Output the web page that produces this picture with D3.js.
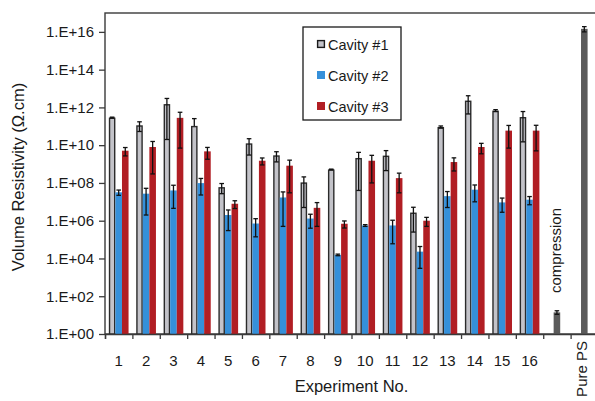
<!DOCTYPE html>
<html>
<head>
<meta charset="utf-8">
<script src="https://cdn.jsdelivr.net/npm/d3@7"></script>
<style>
  body { margin: 0; background: #fff; }
  text { font-family: "Liberation Sans", Arial, sans-serif; fill: #1a1a1a; }
</style>
</head>
<body>
<div id="chart"></div>
<script>
// experiments 1..16, then the two reference samples
const experiments = d3.range(1, 17).map(String);
const groups = experiments.concat(["compression", "Pure PS"]);
const cavities = ["Cavity #1", "Cavity #2", "Cavity #3"];

// volume resistivity (ohm.cm) and +/- error
const cavity1 = [2.9e11, 1.13e11, 1.5e12, 1.05e11, 6e7, 1.25e10, 2.9e9, 1.07e8, 5.2e8, 2.1e9, 2.8e9, 2.7e6, 9.2e10, 2.3e12, 6.8e11, 3.1e11];
const cavity1Err = [1.5e10, 6e10, 1.48e12, 1.5e11, 3.3e7, 9.5e9, 1.6e9, 1.02e8, 2e7, 2.06e9, 2.35e9, 2.45e6, 1.2e10, 1.85e12, 8e10, 2.95e11];
const cavity2 = [3.2e7, 2.7e7, 4e7, 9.8e7, 2e6, 7.1e5, 1.7e7, 1.3e6, 1.55e4, 5.6e5, 5.6e5, 2.3e4, 2e7, 4.4e7, 9.3e6, 1.3e7];
const cavity2Err = [1e7, 2.5e7, 3.55e7, 7.5e7, 1.7e6, 5.7e5, 1.65e7, 9e5, 1.5e3, 6e4, 5e5, 2e4, 1.5e7, 3.4e7, 6.5e6, 6e6];
const cavity3 = [5.1e9, 8e9, 2.8e11, 4.7e9, 7.9e6, 1.5e9, 8.2e8, 4.8e6, 6.9e5, 1.5e9, 1.8e8, 1e6, 1.28e9, 8e9, 5.9e10, 5.9e10];
const cavity3Err = [2.4e9, 7.7e9, 2.73e11, 2.9e9, 3.5e6, 6e8, 7.9e8, 4.3e6, 2.8e5, 1.4e9, 1.5e8, 5e5, 8.5e8, 4.5e9, 5.2e10, 5.4e10];
const refValues = [14, 1.45e16];
const refErr = [3, 4.5e15];

const yTicks = [1e0, 1e2, 1e4, 1e6, 1e8, 1e10, 1e12, 1e14, 1e16];

const colors = ["#c3c3c9", "#3590da", "#b11e24"];
const refColor = "#5b5b5b";

const width = 595, height = 401;
const margin = { top: 13, left: 105, bottom: 334, right: 598 };

const svg = d3.select("#chart").append("svg")
    .attr("width", width)
    .attr("height", height);

const x0 = d3.scaleBand()
    .domain(groups)
    .range([margin.left, margin.right])
    .paddingInner(0.28)
    .paddingOuter(0.14);

const x1 = d3.scaleBand()
    .domain(cavities)
    .range([0, x0.bandwidth()]);

const xBound = d3.scaleLinear()
    .domain([0, groups.length])
    .range([margin.left, margin.right]);

const y = d3.scaleLog()
    .domain([1, 1e17])
    .range([margin.bottom, margin.top]);

// plot frame
svg.append("rect")
    .attr("x", margin.left)
    .attr("y", margin.top)
    .attr("width", margin.right - margin.left)
    .attr("height", margin.bottom - margin.top)
    .attr("fill", "none")
    .attr("stroke", "#3a3a3a")
    .attr("stroke-width", 1.4);

// bars
const series = [cavity1, cavity2, cavity3];
const errs = [cavity1Err, cavity2Err, cavity3Err];

const barData = [];
series.forEach((vals, s) => {
    vals.forEach((v, i) => {
        barData.push({ g: experiments[i], c: cavities[s], s: s, v: v, e: errs[s][i],
                       x: x0(experiments[i]) + x1(cavities[s]), w: x1.bandwidth() });
    });
});
refValues.forEach((v, i) => {
    const g = groups[16 + i];
    barData.push({ g: g, s: 3, v: v, e: refErr[i],
                   x: x0(g) + x0.bandwidth() / 2 - x1.bandwidth() / 2, w: x1.bandwidth() });
});

svg.append("g")
    .selectAll("rect")
    .data(barData)
    .enter().append("rect")
    .attr("x", d => d.s === 0 ? d.x + 0.7 : d.x)
    .attr("y", d => y(d.v) + (d.s === 0 ? 0.7 : 0))
    .attr("width", d => d.s === 0 ? d.w - 1.4 : d.w)
    .attr("height", d => y(1) - y(d.v) - (d.s === 0 ? 0.7 : 0))
    .attr("fill", d => d.s === 3 ? refColor : colors[d.s])
    .attr("stroke", d => d.s === 0 ? "#2b2b2b" : "none")
    .attr("stroke-width", 1.4);

// error bars
const eb = svg.append("g")
    .attr("stroke", "#111")
    .attr("stroke-width", 1.3)
    .selectAll("g")
    .data(barData)
    .enter().append("g");

const cx = d => d.x + d.w / 2;
const hi = d => y(d.v + d.e);
const lo = d => d.v - d.e > 0 ? y(d.v - d.e) : y(d.v);

eb.append("line")
    .attr("x1", cx).attr("x2", cx)
    .attr("y1", hi).attr("y2", lo);
eb.append("line")
    .attr("x1", d => cx(d) - 2.3).attr("x2", d => cx(d) + 2.3)
    .attr("y1", hi).attr("y2", hi);
eb.filter(d => d.v - d.e > 0).append("line")
    .attr("x1", d => cx(d) - 2.3).attr("x2", d => cx(d) + 2.3)
    .attr("y1", lo).attr("y2", lo);

// y axis
const yAxis = svg.append("g")
    .attr("transform", `translate(${margin.left},0)`)
    .call(d3.axisLeft(y)
        .tickValues(yTicks)
        .tickSize(6)
        .tickPadding(5)
        .tickFormat(d => "1.E+" + String(Math.round(Math.log10(d))).padStart(2, "0")));
yAxis.select(".domain").remove();
yAxis.selectAll("line").attr("stroke", "#3a3a3a").attr("stroke-width", 1.3);
yAxis.selectAll("text").style("font-size", "15px").attr("fill", "#1a1a1a");

// x axis: ticks between categories
const xAxis = svg.append("g")
    .attr("transform", `translate(0,${margin.bottom})`)
    .call(d3.axisBottom(xBound)
        .tickValues(d3.range(0, groups.length + 1))
        .tickSize(5)
        .tickFormat(""));
xAxis.select(".domain").attr("stroke", "#3a3a3a").attr("stroke-width", 1.4);
xAxis.selectAll("line").attr("stroke", "#3a3a3a").attr("stroke-width", 1.3);

// x labels
svg.append("g")
    .selectAll("text")
    .data(experiments)
    .enter().append("text")
    .attr("x", d => x0(d) + x0.bandwidth() / 2)
    .attr("y", 366)
    .attr("text-anchor", "middle")
    .style("font-size", "15px")
    .text(d => d);

svg.append("text")
    .attr("transform", `translate(${x0("Pure PS") + x0.bandwidth() / 2 + 3},341) rotate(-90)`)
    .attr("text-anchor", "end")
    .style("font-size", "15px")
    .text("Pure PS");

svg.append("text")
    .attr("transform", `translate(${x0("compression") + x0.bandwidth() / 2 + 4},293) rotate(-90)`)
    .attr("text-anchor", "start")
    .style("font-size", "15px")
    .text("compression");

// axis titles
svg.append("text")
    .attr("x", 351.5)
    .attr("y", 392)
    .attr("text-anchor", "middle")
    .style("font-size", "16.5px")
    .text("Experiment No.");

svg.append("text")
    .attr("transform", "translate(24,177) rotate(-90)")
    .attr("text-anchor", "middle")
    .style("font-size", "16.5px")
    .text("Volume Resistivity (Ω.cm)");

// legend
const legend = svg.append("g");
legend.append("rect")
    .attr("x", 303).attr("y", 27)
    .attr("width", 98).attr("height", 93)
    .attr("fill", "#fff")
    .attr("stroke", "#1a1a1a")
    .attr("stroke-width", 1.3);

const item = legend.selectAll("g.item")
    .data(cavities)
    .enter().append("g")
    .attr("class", "item")
    .attr("transform", (d, i) => `translate(317,${44 + i * 31})`);

item.append("rect")
    .attr("x", (d, i) => i === 0 ? 0.6 : 0)
    .attr("y", (d, i) => i === 0 ? -3.4 : -4)
    .attr("width", (d, i) => i === 0 ? 6.8 : 8)
    .attr("height", (d, i) => i === 0 ? 6.8 : 8)
    .attr("fill", (d, i) => colors[i])
    .attr("stroke", (d, i) => i === 0 ? "#1a1a1a" : "none")
    .attr("stroke-width", 1.4);

item.append("text")
    .attr("x", 11)
    .attr("y", 5.5)
    .style("font-size", "14.5px")
    .text(d => d);
</script>
</body>
</html>
